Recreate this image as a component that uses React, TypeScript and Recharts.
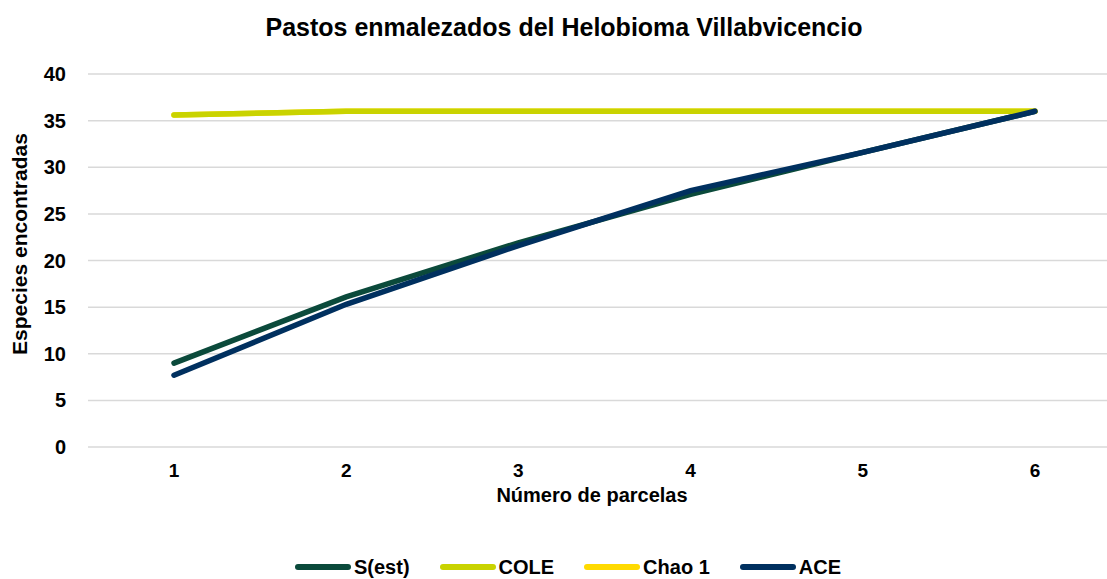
import React from 'react'
import { LineChart, Line, XAxis, YAxis, CartesianGrid, Label } from 'recharts'

const parcelas = ['1', '2', '3', '4', '5', '6']
const sEst = [9, 16.1, 21.9, 27.1, 31.6, 36]
const cole = [35.6, 36, 36, 36, 36, 36]
const chao1 = [35.6, 36, 36, 36, 36, 36]
const ace = [7.7, 15.3, 21.6, 27.5, 31.6, 36]
const yTicks = [0, 5, 10, 15, 20, 25, 30, 35, 40]

const series = [
  { key: 'sEst', name: 'S(est)', color: '#0B4A3B' },
  { key: 'cole', name: 'COLE', color: '#C9D300' },
  { key: 'chao1', name: 'Chao 1', color: '#FFDA00' },
  { key: 'ace', name: 'ACE', color: '#00305F' },
]

const data = parcelas.map((p, i) => ({
  parcela: p,
  sEst: sEst[i],
  cole: cole[i],
  chao1: chao1[i],
  ace: ace[i],
}))

const font = 'Arial, "Liberation Sans", sans-serif'

if (typeof document !== 'undefined') document.body.style.margin = '0'

const YTitle = () => (
  <text
    x={19}
    y={244}
    transform="rotate(-90 19 244)"
    textAnchor="middle"
    dominantBaseline="central"
    fontFamily={font}
    fontWeight="bold"
    fontSize={21}
    fill="#000"
  >
    Especies encontradas
  </text>
)

const XTitle = () => (
  <text
    x={592}
    y={495}
    textAnchor="middle"
    dominantBaseline="central"
    fontFamily={font}
    fontWeight="bold"
    fontSize={20}
    fill="#000"
  >
    Número de parcelas
  </text>
)

export default function App() {
  const drawOrder = ['sEst', 'chao1', 'cole', 'ace']
  return (
    <div style={{ position: 'relative', width: 1107, height: 579, background: '#fff', fontFamily: font, overflow: 'hidden' }}>
      <div
        style={{
          position: 'absolute',
          top: 13,
          left: 0,
          width: 1128,
          textAlign: 'center',
          fontSize: 25,
          fontWeight: 'bold',
          color: '#000',
        }}
      >
        Pastos enmalezados del Helobioma Villabvicencio
      </div>
      <LineChart
        width={1107}
        height={579}
        data={data}
        margin={{ top: 74, right: 0, left: 0, bottom: 97 }}
        style={{ position: 'absolute', top: 0, left: 0 }}
      >
        <CartesianGrid vertical={false} stroke="#D9D9D9" strokeWidth={1.5} />
        <XAxis
          dataKey="parcela"
          scale="point"
          padding={{ left: 86, right: 72 }}
          axisLine={false}
          tickLine={false}
          tickSize={0}
          tickMargin={17}
          height={35}
          tick={{ fill: '#000', fontSize: 19, fontWeight: 'bold', fontFamily: font }}
        >
          <Label content={<XTitle />} />
        </XAxis>
        <YAxis
          domain={[0, 40]}
          ticks={yTicks}
          width={88}
          axisLine={false}
          tickLine={false}
          tickSize={0}
          tickMargin={22}
          tick={{ fill: '#000', fontSize: 20, fontWeight: 'bold', fontFamily: font }}
        >
          <Label content={<YTitle />} />
        </YAxis>
        {drawOrder.map((k) => {
          const s = series.find((x) => x.key === k)!
          return (
            <Line
              key={k}
              type="linear"
              dataKey={k}
              name={s.name}
              stroke={s.color}
              strokeWidth={5.5}
              strokeLinecap="round"
              dot={false}
              activeDot={false}
              isAnimationActive={false}
            />
          )
        })}
      </LineChart>
      <div
        style={{
          position: 'absolute',
          top: 556,
          left: 0,
          width: 1136,
          display: 'flex',
          justifyContent: 'center',
          gap: 30,
          fontSize: 20,
          lineHeight: '22px',
          fontWeight: 'bold',
          color: '#000',
        }}
      >
        {series.map((s) => (
          <div key={s.key} style={{ display: 'flex', alignItems: 'center' }}>
            <svg width={56} height={10} style={{ marginRight: 3 }}>
              <line x1={3} y1={5} x2={53} y2={5} stroke={s.color} strokeWidth={6} strokeLinecap="round" />
            </svg>
            <span>{s.name}</span>
          </div>
        ))}
      </div>
    </div>
  )
}
